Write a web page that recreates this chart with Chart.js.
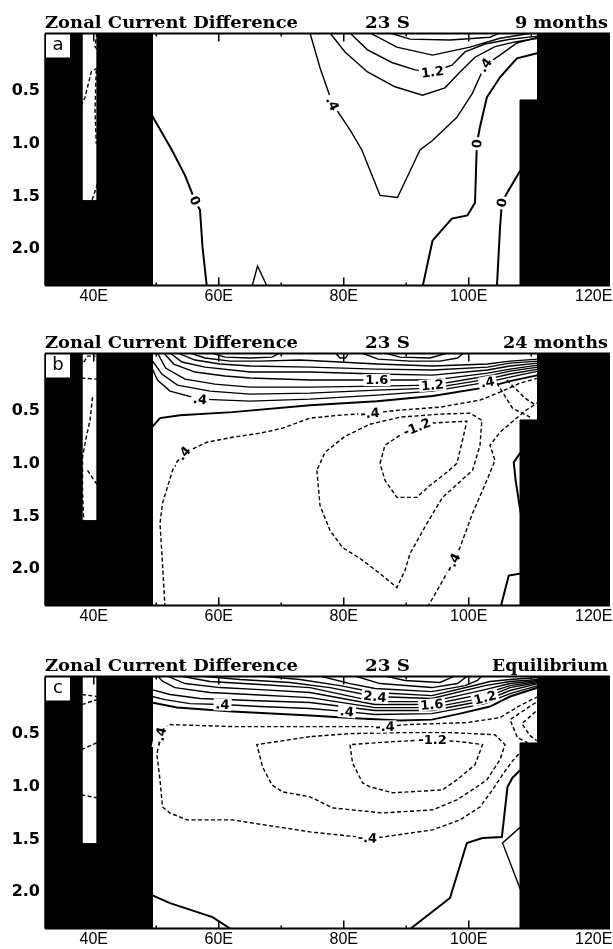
<!DOCTYPE html>
<html>
<head>
<meta charset="utf-8">
<script src="https://cdn.jsdelivr.net/npm/chart.js@4.4.0/dist/chart.umd.min.js"></script>
<style>
  body { margin: 0; background: #fff; }
  #wrap { position: relative; width: 613px; height: 949px; overflow: hidden; }
  .panel { position: absolute; left: 0; width: 613px; height: 316px; }
</style>
</head>
<body>
<div id="wrap">
  <div class="panel" style="top:0px"><canvas id="panelA" width="613" height="316"></canvas></div>
  <div class="panel" style="top:320px"><canvas id="panelB" width="613" height="316"></canvas></div>
  <div class="panel" style="top:643px"><canvas id="panelC" width="613" height="316"></canvas></div>
</div>
<script>
// ---------------- axes ----------------
const lonTicks = [40, 60, 80, 100, 120];
const lonMinor = [50, 70, 90, 110];
const depthTicks = [0.5, 1.0, 1.5, 2.0];
const lonRange = [32.2, 122.6];
const depthRange = [-0.045, 2.345];

const titleText = "Zonal Current Difference";
const latText = "23 S";
const panelLetters = ["a", "b", "c"];
const runLabels = ["9 months", "24 months", "Equilibrium"];

// ---------------- land mask (lon, depth) ----------------
const westLand = [[30, -0.1], [38.1, -0.1], [38.1, 1.54], [40.5, 1.54], [40.5, -0.1], [49.4, -0.1],
  [49.4, 2.4], [30, 2.4], [30, -0.1]];
const eastLand = [[111.0, -0.1], [125, -0.1], [125, 2.4], [108.2, 2.4], [108.2, 0.585], [111.0, 0.585], [111.0, -0.1]];

// ---------------- contours: level, points (lon, depth), label positions ----------------
const contoursA = [
  { lev: 0, pts: [[49.3, 0.73], [52.5, 1.06], [54.6, 1.30], [56.2, 1.54], [57.0, 1.63], [57.4, 1.98], [58.1, 2.36]], lab: [3] },
  { lev: 0.4, pts: [[65.3, 2.36], [66.2, 2.16], [67.8, 2.36]] },
  { lev: 0.4, pts: [[74.6, -0.05], [76.2, 0.28], [78.2, 0.62], [81.0, 0.87], [82.9, 1.06], [85.8, 1.49], [88.6, 1.51],
    [92.2, 1.06], [94.2, 0.97], [98.1, 0.75], [100.6, 0.52], [102.6, 0.255], [105.0, 0.16], [107.7, 0.045], [111.1, -0.01]], lab: [2, 11] },
  { lev: 0, pts: [[92.6, 2.36], [94.2, 1.92], [97.3, 1.71], [99.8, 1.68], [101.0, 1.56], [101.3, 1.0], [101.8, 0.84],
    [102.9, 0.56], [105.0, 0.37], [107.7, 0.19], [111.1, 0.14]], lab: [5] },
  { lev: 0, pts: [[104.5, 2.36], [105.0, 1.80], [105.3, 1.56], [106.1, 1.47], [108.3, 1.25]], lab: [2] },
  { lev: 0.8, pts: [[77.8, -0.05], [80.2, 0.13], [83.8, 0.32], [88.2, 0.46], [92.6, 0.54], [96.2, 0.47], [98.6, 0.32],
    [101.0, 0.18], [104.2, 0.08], [107.4, 0.035], [111.1, 0.0]] },
  { lev: 1.2, pts: [[81.0, -0.05], [83.8, 0.11], [87.7, 0.23], [91.4, 0.30], [94.2, 0.32], [97.3, 0.255], [99.4, 0.13],
    [102.6, 0.055], [106.6, 0.01], [111.1, -0.02]], lab: [4] },
  { lev: 1.6, pts: [[84.2, -0.05], [88.5, 0.084], [94.2, 0.16], [100.2, 0.084], [105.0, 0.0], [110.2, -0.05]] },
  { lev: 2.0, pts: [[87.4, -0.05], [90.6, 0.008], [97.0, 0.017], [103.4, -0.01], [105.0, -0.05]] },
  { lev: -0.4, pts: [[40.5, -0.05], [40.2, 0.08], [40.6, 0.11]] },
  { lev: -0.4, pts: [[40.6, 0.28], [39.6, 0.32], [38.6, 0.56], [38.0, 0.64]] },
  { lev: -0.4, pts: [[40.4, 0.30], [40.2, 0.68], [40.4, 1.0]] },
  { lev: -0.4, pts: [[40.6, 1.38], [39.7, 1.54]] }
];

const contoursB = [
  { lev: 0, pts: [[49.3, 0.654], [50.6, 0.568], [53.8, 0.540], [62.2, 0.511], [74.6, 0.445], [85.3, 0.407], [94.2, 0.359],
    [103.0, 0.274], [106.6, 0.217], [111.1, 0.160]] },
  { lev: 0.4, pts: [[49.3, 0.093], [50.2, 0.207], [52.2, 0.312], [57.0, 0.388], [65.0, 0.407], [74.6, 0.388], [85.3, 0.350],
    [94.2, 0.312], [103.0, 0.226], [106.6, 0.179], [111.1, 0.122]], lab: [3, 8] },
  { lev: 0.8, pts: [[49.3, 0.017], [50.9, 0.150], [53.4, 0.255], [58.6, 0.312], [65.0, 0.340], [74.6, 0.331], [85.3, 0.302],
    [94.2, 0.283], [103.0, 0.198], [106.6, 0.150], [111.1, 0.103]] },
  { lev: 1.2, pts: [[50.2, -0.05], [51.5, 0.093], [54.6, 0.198], [59.4, 0.245], [65.0, 0.274], [74.6, 0.274], [85.3, 0.264],
    [94.2, 0.255], [103.0, 0.169], [106.6, 0.122], [111.1, 0.084]], lab: [7] },
  { lev: 1.6, pts: [[51.2, -0.05], [52.8, 0.055], [56.2, 0.131], [61.0, 0.169], [65.0, 0.188], [74.6, 0.207], [85.3, 0.207],
    [94.2, 0.207], [103.0, 0.141], [106.6, 0.103], [111.1, 0.065]], lab: [6] },
  { lev: 2.0, pts: [[52.2, -0.05], [54.1, 0.036], [57.8, 0.084], [65.0, 0.131], [74.6, 0.131], [85.3, 0.150], [94.2, 0.160],
    [103.0, 0.112], [106.6, 0.074], [111.1, 0.046]] },
  { lev: 2.4, pts: [[53.4, -0.05], [56.2, 0.017], [60.2, 0.055], [65.0, 0.074], [74.6, 0.084], [85.3, 0.103], [94.2, 0.112],
    [103.0, 0.084], [106.6, 0.046], [111.1, 0.027]] },
  { lev: 2.8, pts: [[55.4, -0.05], [57.8, -0.002], [61.8, 0.027], [66.6, 0.027], [73.0, 0.017], [79.4, 0.036], [85.3, 0.055],
    [94.2, 0.074], [103.0, 0.055], [106.6, 0.027], [111.1, 0.008]] },
  { lev: 3.2, pts: [[58.9, -0.05], [61.0, -0.011], [65.0, -0.002], [68.5, -0.011], [69.8, -0.05]] },
  { lev: 3.2, pts: [[82.9, -0.05], [85.5, 0.008], [90.6, 0.027], [95.4, 0.027], [98.2, -0.002], [99.2, -0.05]] },
  { lev: 3.2, pts: [[78.7, -0.05], [79.4, -0.002], [80.3, -0.002], [80.8, -0.05]] },
  { lev: 3.6, pts: [[86.6, -0.05], [89.0, -0.011], [93.8, -0.002], [96.6, -0.05]] },
  { lev: -0.4, pts: [[51.4, 2.36], [50.9, 1.852], [50.6, 1.567], [51.0, 1.376], [52.6, 1.063], [54.1, 0.920], [55.4, 0.873],
    [58.1, 0.797], [62.2, 0.749], [66.6, 0.711], [70.2, 0.663], [74.6, 0.568], [79.4, 0.540], [84.2, 0.521], [89.0, 0.492],
    [95.4, 0.464], [101.8, 0.397], [105.0, 0.321], [108.2, 0.236], [111.1, 0.188]], lab: [5, 13] },
  { lev: -0.4, pts: [[93.4, 2.36], [95.4, 2.156], [97.4, 1.937], [98.6, 1.795], [100.6, 1.471], [102.9, 1.158], [104.2, 0.968],
    [103.4, 0.825], [105.0, 0.702], [107.0, 0.600], [109.0, 0.500], [111.1, 0.420]], lab: [2] },
  { lev: -0.8, pts: [[75.7, 1.063], [76.2, 1.396], [77.8, 1.633], [79.8, 1.795], [82.6, 1.899], [85.8, 2.042], [88.5, 2.175],
    [89.8, 2.013], [90.6, 1.852], [93.3, 1.567], [95.8, 1.320], [100.6, 1.063], [101.8, 0.825], [102.1, 0.588], [100.2, 0.521],
    [95.4, 0.530], [89.0, 0.559], [84.2, 0.626], [80.2, 0.740], [77.0, 0.892], [75.7, 1.063]] },
  { lev: -1.2, pts: [[85.8, 0.997], [86.6, 0.825], [89.0, 0.730], [91.7, 0.654], [93.8, 0.616], [99.7, 0.597], [99.0, 0.778],
    [98.1, 0.997], [96.5, 1.082], [93.8, 1.205], [91.7, 1.320], [88.5, 1.320], [86.6, 1.158], [85.8, 0.997]], lab: [3] },
  { lev: -0.8, pts: [[104.5, 0.236], [107.0, 0.473], [109.8, 0.559]] },
  { lev: -0.8, pts: [[106.1, 0.207], [109.0, 0.378], [110.7, 0.445]] },
  { lev: 0, pts: [[108.3, 0.892], [107.2, 0.987], [107.5, 1.158], [108.3, 1.463]] },
  { lev: 0, pts: [[105.1, 2.36], [106.4, 2.061], [108.3, 2.042]] },
  { lev: -0.4, pts: [[38.4, 0.036], [39.0, -0.02], [40.3, -0.02]] },
  { lev: -0.4, pts: [[38.0, 0.188], [40.6, 0.198]] },
  { lev: -0.4, pts: [[39.8, 0.369], [39.4, 0.588], [38.7, 0.778], [38.2, 0.940], [38.2, 1.254], [38.4, 1.539]] },
  { lev: -0.4, pts: [[39.0, 1.063], [40.6, 1.205]] }
];

const contoursC = [
  { lev: 0, pts: [[49.3, 0.202], [53.3, 0.250], [62.2, 0.288], [74.6, 0.326], [82.6, 0.354], [89.0, 0.373], [94.1, 0.364],
    [98.6, 0.307], [103.4, 0.240], [106.6, 0.145], [111.1, 0.060]] },
  { lev: 0.4, pts: [[49.3, 0.145], [51.4, 0.174], [55.4, 0.212], [60.6, 0.221], [66.6, 0.240], [74.6, 0.259], [80.5, 0.288],
    [85.0, 0.316], [94.1, 0.307], [102.6, 0.212], [106.6, 0.117], [111.1, 0.041]], lab: [3, 6] },
  { lev: 0.8, pts: [[49.3, 0.079], [52.2, 0.126], [57.0, 0.164], [65.0, 0.183], [74.6, 0.202], [85.0, 0.278], [94.1, 0.278],
    [102.6, 0.183], [106.6, 0.088], [111.1, 0.022]] },
  { lev: 1.2, pts: [[50.2, -0.05], [51.0, 0.0], [53.0, 0.060], [58.6, 0.107], [65.0, 0.126], [74.6, 0.155], [85.0, 0.250],
    [94.1, 0.250], [102.6, 0.155], [106.6, 0.060], [111.1, 0.012]], lab: [8] },
  { lev: 1.6, pts: [[51.7, -0.05], [54.6, 0.022], [60.2, 0.060], [66.6, 0.079], [74.6, 0.107], [85.0, 0.221], [94.1, 0.221],
    [102.6, 0.117], [106.6, 0.041], [111.1, 0.003]], lab: [6] },
  { lev: 2.0, pts: [[53.8, -0.05], [58.6, 0.003], [66.6, 0.031], [74.6, 0.060], [85.0, 0.193], [94.1, 0.193], [102.6, 0.079],
    [106.6, 0.022], [111.1, -0.007]] },
  { lev: 2.4, pts: [[57.0, -0.05], [63.4, -0.016], [71.4, 0.012], [77.8, 0.060], [85.0, 0.145], [94.1, 0.164], [102.6, 0.041],
    [106.6, 0.003], [111.1, -0.016]], lab: [4] },
  { lev: 2.8, pts: [[66.6, -0.05], [73.0, -0.016], [79.4, 0.041], [85.0, 0.107], [94.1, 0.136], [100.2, 0.050], [103.4, 0.003],
    [106.6, -0.016], [111.1, -0.035]] },
  { lev: 3.2, pts: [[76.2, -0.05], [81.0, 0.022], [85.0, 0.069], [94.1, 0.098], [99.4, 0.041], [101.4, -0.007], [102.1, -0.05]] },
  { lev: 3.6, pts: [[81.8, -0.05], [85.8, 0.022], [94.1, 0.060], [98.2, 0.022], [99.8, -0.05]] },
  { lev: 4.0, pts: [[86.6, -0.05], [89.8, -0.007], [95.4, 0.012], [97.8, -0.05]] },
  { lev: -0.4, pts: [[111.1, 0.145], [108.2, 0.230], [105.0, 0.345], [99.7, 0.392], [90.1, 0.411], [86.6, 0.430], [74.6, 0.430],
    [62.2, 0.430], [52.2, 0.411], [51.0, 0.459], [50.6, 0.525], [50.1, 0.697], [50.6, 0.935], [51.0, 1.192], [52.2, 1.249],
    [54.9, 1.315], [62.2, 1.315], [74.6, 1.429], [83.8, 1.486], [86.2, 1.477], [94.2, 1.410], [98.6, 1.315], [101.8, 1.192],
    [103.8, 1.030], [105.4, 0.887], [106.9, 0.764], [108.3, 0.668]], lab: [5, 10, 18] },
  { lev: -0.8, pts: [[74.6, 0.525], [66.1, 0.601], [67.0, 0.811], [68.5, 0.982], [70.2, 1.049], [74.6, 1.096], [78.2, 1.201],
    [86.2, 1.249], [94.2, 1.220], [98.1, 1.125], [101.3, 1.001], [102.9, 0.935], [105.0, 0.744], [105.8, 0.601], [104.2, 0.507],
    [97.0, 0.487], [89.0, 0.487], [81.0, 0.497], [74.6, 0.525]] },
  { lev: -1.2, pts: [[81.0, 0.601], [81.4, 0.773], [83.0, 0.963], [84.2, 1.001], [87.8, 1.058], [95.8, 1.030], [98.1, 0.935],
    [101.0, 0.792], [102.2, 0.601], [98.6, 0.573], [94.2, 0.554], [87.8, 0.573], [81.0, 0.601]], lab: [10] },
  { lev: -0.8, pts: [[110.7, 0.202], [106.6, 0.364], [107.8, 0.535], [109.4, 0.583]] },
  { lev: -1.2, pts: [[110.7, 0.288], [108.5, 0.402], [109.8, 0.516], [110.9, 0.564]] },
  { lev: 0, pts: [[90.4, 2.36], [97.0, 2.056], [99.7, 1.534], [102.2, 1.486], [105.3, 1.477], [106.2, 1.001], [107.0, 0.915],
    [108.3, 0.839]] },
  { lev: 0.4, pts: [[108.3, 1.381], [105.4, 1.534], [108.3, 1.981]] },
  { lev: 0, pts: [[49.3, 2.028], [52.2, 2.104], [59.0, 2.237], [62.2, 2.36]] },
  { lev: -0.4, pts: [[38.1, 0.126], [40.5, 0.145]] },
  { lev: -0.4, pts: [[38.1, 0.221], [40.5, 0.174]] },
  { lev: -0.4, pts: [[38.0, 0.649], [40.5, 0.583]] },
  { lev: -0.4, pts: [[38.0, 1.077], [40.5, 1.106]] }
];

// ---------------- helpers ----------------
function levelText(lev) {
  if (lev === 0) return "0";
  let s = Math.abs(lev).toFixed(1);
  if (s.startsWith("0.")) s = s.slice(1);
  return (lev < 0 ? "-" : "") + s;
}

function contourDataset(c) {
  return {
    data: c.pts,
    borderColor: "#000",
    borderWidth: c.lev === 0 ? 2 : 1.4,
    borderDash: c.lev < 0 ? [4, 2.5] : [],
    pointRadius: 0,
    tension: 0,
    fill: false,
    order: 1,
    labelIdx: c.lab || [],
    labelText: levelText(c.lev)
  };
}

function landDataset(pts) {
  return {
    data: pts,
    borderColor: "#000",
    borderWidth: 1,
    backgroundColor: "#000",
    fill: "shape",
    pointRadius: 0,
    tension: 0,
    order: 0
  };
}

// stretch a string to a given width
function fitText(ctx, text, x, y, width, align) {
  const w = ctx.measureText(text).width;
  ctx.save();
  ctx.translate(align === "right" ? x - width : x, y);
  ctx.scale(width / w, 1);
  ctx.textAlign = "left";
  ctx.fillText(text, 0, 0);
  ctx.restore();
}

// ---------------- plugins ----------------
const contourLabels = {
  id: "contourLabels",
  afterDatasetsDraw(chart) {
    const ctx = chart.ctx;
    ctx.save();
    ctx.font = 'bold 13px "DejaVu Sans"';
    ctx.textAlign = "center";
    ctx.textBaseline = "middle";
    chart.data.datasets.forEach((ds, di) => {
      if (!ds.labelIdx || !ds.labelIdx.length) return;
      const pts = chart.getDatasetMeta(di).data;
      ds.labelIdx.forEach((i) => {
        const p = pts[i];
        const a = pts[Math.max(i - 1, 0)];
        const b = pts[Math.min(i + 1, pts.length - 1)];
        let ang = Math.atan2(b.y - a.y, b.x - a.x);
        if (ang > Math.PI / 2) ang -= Math.PI;
        if (ang < -Math.PI / 2) ang += Math.PI;
        const w = ctx.measureText(ds.labelText).width;
        ctx.save();
        ctx.translate(p.x, p.y);
        ctx.rotate(ang);
        ctx.fillStyle = "#fff";
        ctx.fillRect(-w / 2 - 2, -6, w + 4, 12);
        ctx.fillStyle = "#000";
        ctx.fillText(ds.labelText, 0, 1);
        ctx.restore();
      });
    });
    ctx.restore();
  }
};

const frame = {
  id: "frame",
  afterDraw(chart, args, opts) {
    const { ctx, chartArea: ca } = chart;
    const x = chart.scales.x;
    ctx.save();
    ctx.strokeStyle = "#000";

    // box
    ctx.lineWidth = 2;
    ctx.beginPath();
    ctx.moveTo(ca.left, ca.top);
    ctx.lineTo(ca.right, ca.top);
    ctx.moveTo(ca.left, ca.bottom);
    ctx.lineTo(ca.right, ca.bottom);
    ctx.stroke();
    ctx.lineWidth = 1.5;
    ctx.beginPath();
    ctx.moveTo(ca.left, ca.top);
    ctx.lineTo(ca.left, ca.bottom);
    ctx.stroke();

    // inward ticks, top and bottom
    ctx.lineWidth = 1.5;
    ctx.beginPath();
    lonTicks.forEach((v) => {
      const px = x.getPixelForValue(v);
      ctx.moveTo(px, ca.top);
      ctx.lineTo(px, ca.top + 8);
      ctx.moveTo(px, ca.bottom);
      ctx.lineTo(px, ca.bottom - 8);
    });
    lonMinor.forEach((v) => {
      const px = x.getPixelForValue(v);
      ctx.moveTo(px, ca.top);
      ctx.lineTo(px, ca.top + 3);
      ctx.moveTo(px, ca.bottom);
      ctx.lineTo(px, ca.bottom - 3);
    });
    ctx.stroke();

    // panel letter
    ctx.fillStyle = "#fff";
    ctx.fillRect(ca.left + 1, ca.top + 1, 24, 23);
    ctx.fillStyle = "#000";
    ctx.font = '18px "DejaVu Sans"';
    ctx.textAlign = "center";
    ctx.textBaseline = "middle";
    ctx.fillText(opts.letter, ca.left + 13, ca.top + 12);

    // heading line
    ctx.font = 'bold 16px "DejaVu Serif"';
    ctx.textBaseline = "alphabetic";
    const base = ca.top - 5.5;
    fitText(ctx, titleText, ca.left, base, 253, "left");
    fitText(ctx, latText, 365, base, 45, "left");
    fitText(ctx, opts.run, 608, base, opts.runWidth, "right");
    ctx.restore();
  }
};

// ---------------- charts ----------------
function makePanel(id, letter, run, runWidth, contours) {
  const datasets = [landDataset(westLand), landDataset(eastLand)].concat(contours.map(contourDataset));
  return new Chart(document.getElementById(id), {
    type: "line",
    data: { datasets },
    options: {
      responsive: false,
      animation: false,
      events: [],
      layout: { padding: { top: 33.5, right: 3, left: 0, bottom: 0 } },
      plugins: {
        legend: { display: false },
        tooltip: { enabled: false },
        frame: { letter, run, runWidth }
      },
      scales: {
        x: {
          type: "linear",
          min: lonRange[0],
          max: lonRange[1],
          grid: { display: false, drawTicks: false },
          border: { display: false },
          afterBuildTicks: (s) => { s.ticks = lonTicks.map((v) => ({ value: v })); },
          afterFit: (s) => {
            s.height = 30.5;
            s.paddingLeft = 0;
            s.paddingRight = 0;
          },
          ticks: {
            autoSkip: false,
            maxRotation: 0,
            padding: 1,
            color: "#000",
            font: { family: "Liberation Sans", size: 16 },
            callback: (v) => v + "E"
          }
        },
        y: {
          type: "linear",
          reverse: true,
          min: depthRange[0],
          max: depthRange[1],
          grid: { display: false, drawTicks: false },
          border: { display: false },
          afterBuildTicks: (s) => { s.ticks = depthTicks.map((v) => ({ value: v })); },
          afterFit: (s) => {
            s.width = 45;
            s.paddingTop = 0;
            s.paddingBottom = 0;
          },
          ticks: {
            padding: 5,
            color: "#000",
            font: { family: "DejaVu Sans", size: 16, weight: "bold" },
            callback: (v) => Number(v).toFixed(1)
          }
        }
      }
    },
    plugins: [contourLabels, frame]
  });
}

makePanel("panelA", panelLetters[0], runLabels[0], 93, contoursA);
makePanel("panelB", panelLetters[1], runLabels[1], 105, contoursB);
makePanel("panelC", panelLetters[2], runLabels[2], 116, contoursC);
</script>
</body>
</html>
